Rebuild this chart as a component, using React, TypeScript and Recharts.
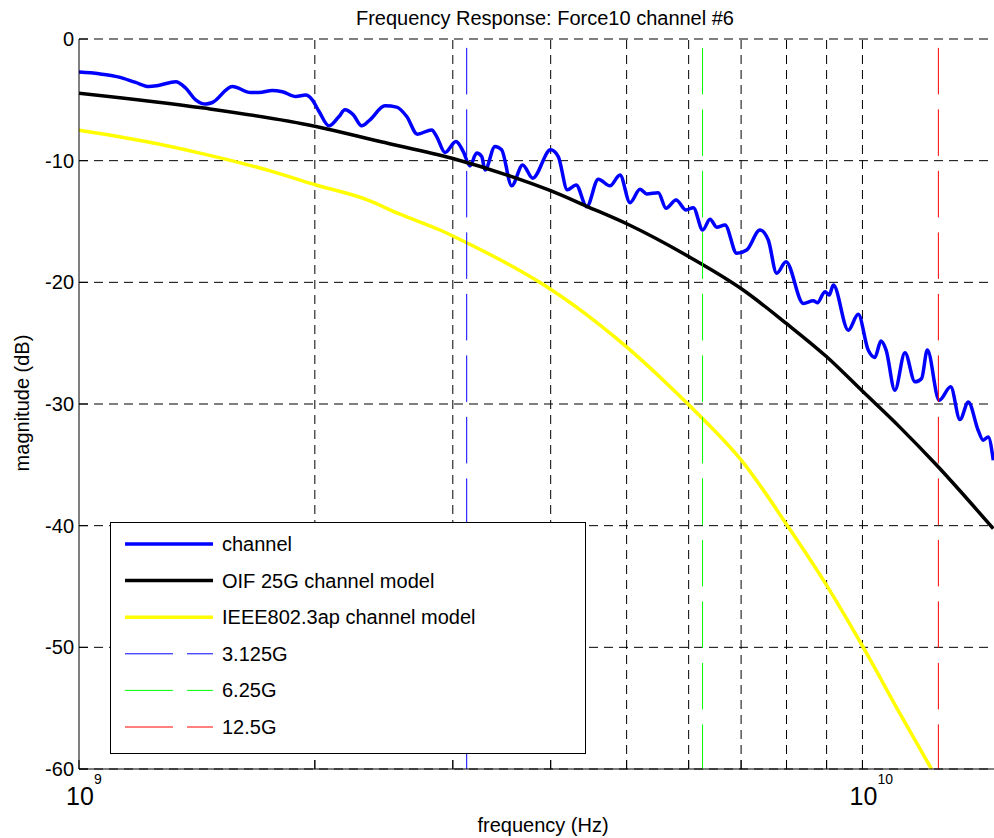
import { LineChart, Line, XAxis, YAxis, CartesianGrid, Label, Legend, ReferenceLine } from 'recharts'

const FONT = '"Liberation Sans", Arial, Helvetica, sans-serif'

// measured channel (frequency in GHz, magnitude in dB)
const channelFreq = [
  1.0, 1.061, 1.125, 1.181, 1.228, 1.258, 1.329, 1.368, 1.409, 1.451,
  1.48, 1.569, 1.656, 1.697, 1.765, 1.818, 1.891, 1.947, 1.985, 2.025,
  2.085, 2.147, 2.185, 2.239, 2.295, 2.352, 2.458, 2.544, 2.62, 2.703,
  2.82, 2.861, 2.932, 3.028, 3.094, 3.155, 3.218, 3.266, 3.298, 3.396,
  3.463, 3.567, 3.684, 3.794, 3.999, 4.09, 4.201, 4.31, 4.447, 4.601,
  4.762, 4.904, 5.05, 5.201, 5.304, 5.488, 5.614, 5.782, 5.954, 6.083,
  6.253, 6.389, 6.516, 6.677, 6.91, 7.117, 7.4, 7.582, 7.772, 7.987,
  8.404, 8.655, 8.757, 8.958, 9.071, 9.179, 9.592, 9.877, 10.17, 10.37,
  10.56, 10.72, 11.0, 11.33, 11.67, 11.9, 12.1, 12.53, 12.96, 13.32,
  13.65, 14.05, 14.26, 14.47, 14.69,
]
const channelDb = [
  -2.72, -2.86, -3.13, -3.57, -3.9, -3.84, -3.51, -4.03, -5.0, -5.35,
  -5.22, -3.9, -4.4, -4.4, -4.23, -4.34, -4.72, -4.61, -5.0, -5.96,
  -7.14, -6.37, -5.82, -6.23, -7.14, -6.64, -5.49, -5.6, -6.37, -7.82,
  -7.47, -8.02, -9.33, -8.43, -9.25, -10.43, -9.38, -9.66, -10.76, -8.84,
  -9.11, -12.07, -10.35, -11.44, -9.11, -9.66, -12.4, -11.99, -13.78, -11.52,
  -12.07, -11.17, -13.45, -12.35, -12.73, -12.63, -13.91, -13.23, -14.05, -13.86,
  -15.7, -14.81, -15.47, -15.28, -17.61, -17.34, -15.7, -16.52, -19.26, -18.3,
  -21.73, -21.51, -21.68, -20.77, -21.05, -20.22, -23.93, -22.63, -25.57, -26.17,
  -24.83, -25.57, -28.87, -25.79, -28.18, -27.9, -25.57, -29.69, -28.59, -31.28,
  -29.83, -32.16, -32.98, -32.71, -34.63,
]

// OIF 25G channel model
const oifFreq = [1.0, 1.444, 2.007, 2.422, 2.993, 3.545, 3.999, 4.447, 5.025, 6.007, 7.013, 8.004, 9.002, 10.02, 11.16, 12.44, 14.69]
const oifDb = [-4.45, -5.68, -7.19, -8.43, -9.8, -11.25, -12.47, -13.75, -15.25, -17.9, -20.55, -23.4, -26.12, -29.0, -31.9, -35.04, -40.25]

// IEEE802.3ap channel model
const ieeeFreq = [1.0, 1.217, 1.427, 1.754, 2.007, 2.329, 2.569, 2.889, 3.125, 3.516, 3.954, 4.625, 5.025, 5.625, 6.007, 6.771, 6.978, 8.042, 9.002, 10.02, 11.17, 12.25]
const ieeeDb = [-7.5, -8.43, -9.38, -10.84, -12.0, -13.2, -14.4, -15.7, -16.75, -18.44, -20.36, -23.51, -25.43, -28.31, -30.09, -33.52, -34.49, -40.11, -44.91, -49.99, -55.47, -60.0]

// baud-rate markers
const markerFreq = [3.125, 6.25, 12.5]
const markerName = ['3.125G', '6.25G', '12.5G']
const markerColor = ['#0000ff', '#00ff00', '#ff0000']

const xTicks = [1, 2, 3, 4, 5, 6, 7, 8, 9, 10]
const yTicks = [0, -10, -20, -30, -40, -50, -60]

const zip = (fs: number[], ds: number[]) => fs.map((f, i) => ({ f, db: ds[i] }))

const channelData = zip(channelFreq, channelDb)
const oifData = zip(oifFreq, oifDb)
const ieeeData = zip(ieeeFreq, ieeeDb)

const legendRows = [
  { name: 'channel', color: '#0000ff', width: 3.5, dash: undefined },
  { name: 'OIF 25G channel model', color: '#000000', width: 3.5, dash: undefined },
  { name: 'IEEE802.3ap channel model', color: '#ffff00', width: 3.5, dash: undefined },
  ...markerName.map((n, i) => ({ name: n, color: markerColor[i], width: 1, dash: '48 14' })),
]

const XTick = (props: any) => {
  const { x, y, payload } = props
  const v = payload.value
  const major = v === 1 || v === 10
  return (
    <g>
      <line x1={x} x2={x} y1={y} y2={y - 9} stroke="#000" />
      {major && (
        <text fontFamily={FONT} fill="#000">
          <tspan x={x + 1} y={y + 36} textAnchor="middle" fontSize={25}>10</tspan>
          <tspan x={x + 15} y={y + 15} textAnchor="start" fontSize={14}>{v === 1 ? '9' : '10'}</tspan>
        </text>
      )}
    </g>
  )
}

const YTick = (props: any) => {
  const { x, y, payload } = props
  return (
    <g>
      <line x1={x} x2={x + 9} y1={y} y2={y} stroke="#000" />
      <text x={x - 5} y={y + 7} textAnchor="end" fontSize={20} fontFamily={FONT} fill="#000">{payload.value}</text>
    </g>
  )
}

const renderLegend = () => (
  <svg width={477} height={233} style={{ display: 'block' }}>
    <rect x={0.5} y={0.5} width={475} height={231} fill="#fff" stroke="#000" />
    {legendRows.map((r, i) => {
      const cy = 22 + i * 36.6
      return (
        <g key={r.name}>
          <line x1={15} x2={103} y1={cy} y2={cy} stroke={r.color} strokeWidth={r.width} strokeDasharray={r.dash} />
          <text x={112} y={cy + 7} fontSize={20} fontFamily={FONT} fill="#000">{r.name}</text>
        </g>
      )
    })}
  </svg>
)

export default function App() {
  return (
    <div style={{ position: 'absolute', left: 0, top: 0, width: 994, height: 838, background: '#fff', fontFamily: FONT }}>
      <LineChart width={994} height={838} margin={{ top: 39, right: 0, bottom: 39, left: 19 }}>
        <CartesianGrid stroke="#000" strokeDasharray="9 6" vertical={false} />
        {xTicks.slice(1).map((t) => (
          <ReferenceLine key={'g' + t} x={t} stroke="#000" strokeDasharray="9 6" zIndex={-100} />
        ))}
        <XAxis
          dataKey="f"
          type="number"
          scale="log"
          domain={[1, 14.72]}
          allowDataOverflow
          ticks={xTicks}
          interval={0}
          tick={<XTick />}
          tickLine={false}
          tickSize={0}
          tickMargin={0}
          height={30}
          axisLine={{ stroke: '#000' }}
        >
          <Label content={() => <text x={543} y={832} textAnchor="middle" fontSize={20} fontFamily={FONT} fill="#000">frequency (Hz)</text>} />
          <Label content={() => <text x={545} y={25} textAnchor="middle" fontSize={20} fontFamily={FONT} fill="#000">Frequency Response: Force10 channel #6</text>} />
        </XAxis>
        <YAxis
          type="number"
          domain={[-60, 0]}
          allowDataOverflow
          ticks={yTicks}
          interval={0}
          tick={<YTick />}
          tickLine={false}
          tickSize={0}
          tickMargin={0}
          width={60}
          axisLine={{ stroke: '#000' }}
        >
          <Label content={() => <text x={29} y={403} transform="rotate(-90 29 403)" textAnchor="middle" fontSize={20} fontFamily={FONT} fill="#000">magnitude (dB)</text>} />
        </YAxis>
        <Line data={channelData} dataKey="db" type="monotone" stroke="#0000ff" strokeWidth={3.5} dot={false} isAnimationActive={false} />
        <Line data={oifData} dataKey="db" type="monotone" stroke="#000000" strokeWidth={3.5} dot={false} isAnimationActive={false} />
        <Line data={ieeeData} dataKey="db" type="monotone" stroke="#ffff00" strokeWidth={3.5} dot={false} isAnimationActive={false} />
        {markerFreq.map((f, i) => (
          <Line
            key={markerName[i]}
            data={[{ f, db: 0 }, { f, db: -60 }]}
            dataKey="db"
            type="linear"
            stroke={markerColor[i]}
            strokeWidth={1}
            strokeDasharray="46.5 15"
            strokeDashoffset={52.6}
            dot={false}
            isAnimationActive={false}
          />
        ))}
        <Legend
          content={renderLegend}
          layout="horizontal"
          verticalAlign="middle"
          align="center"
          wrapperStyle={{ left: 110, top: 522, width: 477, height: 233 }}
        />
      </LineChart>
    </div>
  )
}
